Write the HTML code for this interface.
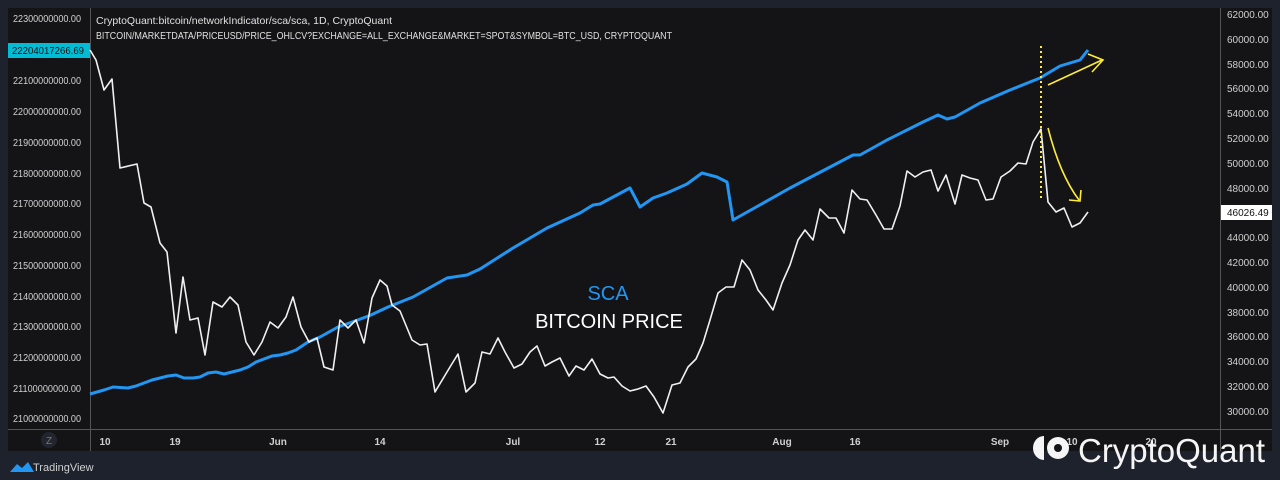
<!DOCTYPE html>
<html><head><meta charset="utf-8"><style>
html,body{margin:0;padding:0;background:#1e222d;width:1280px;height:480px;overflow:hidden}
svg{display:block;font-family:"Liberation Sans",sans-serif}
</style></head><body>
<svg width="1280" height="480" viewBox="0 0 1280 480">
<rect x="0" y="0" width="1280" height="480" fill="#1e222d"/>
<rect x="8" y="8" width="1264" height="443" fill="#141416"/>
<line x1="90.5" y1="8" x2="90.5" y2="451" stroke="#555" stroke-width="1"/>
<line x1="1220.5" y1="8" x2="1220.5" y2="451" stroke="#555" stroke-width="1"/>
<line x1="8" y1="429.5" x2="1272" y2="429.5" stroke="#555" stroke-width="1"/>
<g font-size="10" fill="#d0d0d0">
<text x="13" y="22" textLength="68" lengthAdjust="spacingAndGlyphs">22300000000.00</text>
<text x="13" y="84" textLength="68" lengthAdjust="spacingAndGlyphs">22100000000.00</text>
<text x="13" y="115" textLength="68" lengthAdjust="spacingAndGlyphs">22000000000.00</text>
<text x="13" y="146" textLength="68" lengthAdjust="spacingAndGlyphs">21900000000.00</text>
<text x="13" y="177" textLength="68" lengthAdjust="spacingAndGlyphs">21800000000.00</text>
<text x="13" y="207" textLength="68" lengthAdjust="spacingAndGlyphs">21700000000.00</text>
<text x="13" y="238" textLength="68" lengthAdjust="spacingAndGlyphs">21600000000.00</text>
<text x="13" y="269" textLength="68" lengthAdjust="spacingAndGlyphs">21500000000.00</text>
<text x="13" y="300" textLength="68" lengthAdjust="spacingAndGlyphs">21400000000.00</text>
<text x="13" y="330" textLength="68" lengthAdjust="spacingAndGlyphs">21300000000.00</text>
<text x="13" y="361" textLength="68" lengthAdjust="spacingAndGlyphs">21200000000.00</text>
<text x="13" y="392" textLength="68" lengthAdjust="spacingAndGlyphs">21100000000.00</text>
<text x="13" y="422" textLength="68" lengthAdjust="spacingAndGlyphs">21000000000.00</text>
</g>
<rect x="8" y="43" width="82" height="15" fill="#00bcd4"/>
<text x="12" y="54" font-size="10" fill="#111" textLength="72" lengthAdjust="spacingAndGlyphs">22204017266.69</text>
<g font-size="10" fill="#d0d0d0">
<text x="1227" y="18">62000.00</text><text x="1227" y="43">60000.00</text><text x="1227" y="68">58000.00</text>
<text x="1227" y="92">56000.00</text><text x="1227" y="117">54000.00</text><text x="1227" y="142">52000.00</text>
<text x="1227" y="167">50000.00</text><text x="1227" y="192">48000.00</text>
<text x="1227" y="241">44000.00</text><text x="1227" y="266">42000.00</text><text x="1227" y="291">40000.00</text>
<text x="1227" y="316">38000.00</text><text x="1227" y="340">36000.00</text><text x="1227" y="365">34000.00</text>
<text x="1227" y="390">32000.00</text><text x="1227" y="415">30000.00</text>
</g>
<rect x="1221" y="205" width="51" height="15" fill="#ffffff"/>
<text x="1227" y="216" font-size="10" fill="#111">46026.49</text>
<g font-size="10" fill="#d0d0d0" text-anchor="middle" font-weight="bold">
<text x="105" y="445">10</text><text x="175" y="445">19</text><text x="278" y="445">Jun</text>
<text x="380" y="445">14</text><text x="513" y="445">Jul</text><text x="600" y="445">12</text>
<text x="671" y="445">21</text><text x="782" y="445">Aug</text><text x="855" y="445">16</text>
<text x="1000" y="445">Sep</text><text x="1072" y="445">10</text><text x="1151" y="445">20</text>
</g>
<circle cx="49" cy="440" r="8" fill="#22252d"/><text x="49" y="444" font-size="10" fill="#777" text-anchor="middle">Z</text>
<text x="96" y="24" font-size="10.5" fill="#e0e0e0" textLength="296" lengthAdjust="spacingAndGlyphs">CryptoQuant:bitcoin/networkIndicator/sca/sca, 1D, CryptoQuant</text>
<text x="96" y="39" font-size="10.5" fill="#e0e0e0" textLength="576" lengthAdjust="spacingAndGlyphs">BITCOIN/MARKETDATA/PRICEUSD/PRICE_OHLCV?EXCHANGE=ALL_EXCHANGE&amp;MARKET=SPOT&amp;SYMBOL=BTC_USD, CRYPTOQUANT</text>
<polyline fill="none" stroke="#2196f3" stroke-width="3" stroke-linejoin="round" points="90,394 104,390 113,387 128,388 136,386 144,383 152,380 160,378 168,376 176,375 184,378 193,378 200,377 208,373 216,372 224,374 232,372 240,370 248,367 256,362 264,359 272,356 280,355 288,353 296,350 308,342 320,337 338,327 355,321 371,315 388,307 413,297 447,278 467,275 480,269 513,248 547,228 580,213 593,205 600,204 630,188 640,207 653,198 667,193 687,184 702,173 717,177 727,182 733,220 790,188 853,155 860,155 887,140 923,122 938,115 947,119 955,117 980,103 1010,90 1040,78 1060,66 1070,63 1080,60 1088,50"/>
<polyline fill="none" stroke="#f0f0f0" stroke-width="1.6" stroke-linejoin="round" points="90,50 96,60 104,90 112,79 120,168 137,164 144,203 151,207 160,243 167,252 176,333 183,277 190,320 198,318 205,355 213,302 222,307 230,297 238,305 246,342 254,355 262,342 270,322 278,328 286,317 293,297 301,327 309,342 317,338 324,367 333,370 340,320 348,328 356,320 364,343 372,298 380,280 387,286 392,305 400,311 412,340 420,345 427,344 435,392 450,367 458,354 466,392 475,383 482,352 490,354 498,338 505,352 514,368 522,364 530,352 537,346 545,366 552,362 560,358 569,376 576,366 584,370 592,359 600,374 608,378 614,377 622,386 630,391 638,389 646,386 654,397 663,413 672,385 680,383 688,367 696,359 703,343 710,320 718,293 726,287 734,287 742,260 750,270 758,290 766,300 773,310 782,283 790,265 798,240 805,230 813,240 820,209 829,218 836,218 844,233 852,190 860,199 867,200 876,215 884,229 892,229 900,206 907,171 915,177 923,172 931,170 938,191 946,175 955,204 962,175 970,178 978,180 986,200 993,199 1001,177 1010,171 1018,163 1026,164 1033,142 1041,129 1048,202 1056,212 1064,208 1072,227 1080,223 1088,212"/>
<line x1="1041" y1="46" x2="1041" y2="200" stroke="#ffeb3b" stroke-width="2" stroke-dasharray="2,3"/>
<g stroke="#ffeb3b" stroke-width="1.6" fill="none">
<line x1="1048" y1="85" x2="1102" y2="60"/><polyline points="1088,54 1103,60 1092,72"/>
<path d="M1048,128 Q1060,175 1079,200"/><polyline points="1069,200 1080,201 1081,190"/>
</g>
<text x="608" y="300" font-size="20" fill="#2196f3" text-anchor="middle">SCA</text>
<text x="609" y="328" font-size="20" fill="#ffffff" text-anchor="middle">BITCOIN PRICE</text>
<g fill="#f5f5f5">
<path d="M1044,436 a11,12 0 0 0 0,24 z"/>
<circle cx="1058" cy="448" r="11"/>
<circle cx="1058" cy="448" r="4" fill="#141416"/>
</g>
<text x="1078" y="462" font-size="33" fill="#f5f5f5" textLength="187" lengthAdjust="spacingAndGlyphs">CryptoQuant</text>
<path d="M10,472 l7,-8 l5,4 l6,-6 l6,10 z" fill="#2196f3"/>
<text x="33" y="471" font-size="11" fill="#d0d0d0">TradingView</text>
</svg>
</body></html>
